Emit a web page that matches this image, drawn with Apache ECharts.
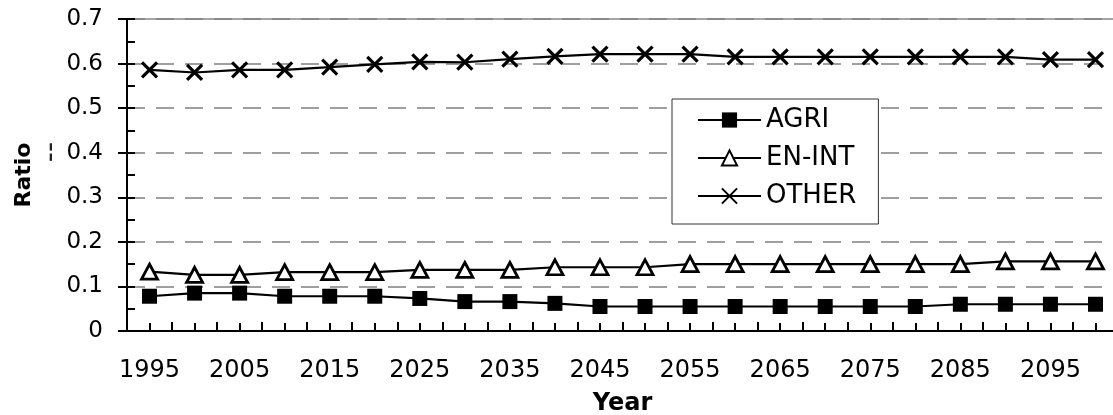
<!DOCTYPE html>
<html>
<head>
<meta charset="utf-8">
<script src="https://cdn.jsdelivr.net/npm/echarts@6/dist/echarts.min.js"></script>
<style>
html,body{margin:0;padding:0;background:#fff;}
#chart{width:1113px;height:415px;}
</style>
</head>
<body>
<div id="chart"></div>
<script>
var years = ['1995','2000','2005','2010','2015','2020','2025','2030','2035','2040','2045','2050','2055','2060','2065','2070','2075','2080','2085','2090','2095','2100'];
var agri  = [0.078,0.085,0.085,0.078,0.078,0.078,0.073,0.066,0.066,0.062,0.055,0.055,0.055,0.055,0.055,0.055,0.055,0.055,0.060,0.060,0.060,0.060];
var enint = [0.133,0.126,0.126,0.132,0.132,0.132,0.137,0.137,0.137,0.143,0.143,0.143,0.150,0.150,0.150,0.150,0.150,0.150,0.150,0.156,0.156,0.156];
var other = [0.586,0.580,0.586,0.586,0.592,0.598,0.604,0.603,0.610,0.616,0.621,0.621,0.621,0.615,0.615,0.615,0.615,0.615,0.615,0.615,0.609,0.609];
var seriesNames = ['AGRI','EN-INT','OTHER'];
var yMin = 0, yMax = 0.7, yStep = 0.1;

var FONT = 'DejaVu Sans';
var chart = echarts.init(document.getElementById('chart'), null, {renderer:'canvas'});
var gridRect = {left:127, top:19, width:991, height:312, containLabel:false, outerBoundsMode:'none'};
var crossPath = 'path://M0,0L10,10M10,0L0,10';
var hiddenLine = {show:true, lineStyle:{color:'rgba(0,0,0,0)', width:0}};

var option = {
  animation:false,
  backgroundColor:'#fff',
  grid:[
    Object.assign({show:true, borderColor:'#888', borderWidth:1.5, backgroundColor:'transparent'}, gridRect),
    Object.assign({}, gridRect),
    Object.assign({}, gridRect)
  ],
  legend:{
    orient:'vertical',
    left:672, top:99,
    data:seriesNames,
    backgroundColor:'#fff',
    borderColor:'#333', borderWidth:1,
    padding:[8,22,15,25],
    itemWidth:63, itemHeight:19, itemGap:12,
    textStyle:{fontFamily:FONT, fontSize:26, color:'#000'}
  },
  xAxis:[
    {type:'category', gridIndex:0, data:years, boundaryGap:true,
     axisLine:{lineStyle:{color:'#000', width:2}},
     axisTick:{alignWithLabel:true, interval:0, length:6, lineStyle:{color:'#000', width:2}},
     axisLabel:{interval:1, margin:28, fontFamily:FONT, fontSize:24, color:'#000'},
     name:'Year', nameLocation:'middle', nameGap:61,
     nameTextStyle:{fontFamily:FONT, fontSize:24, fontWeight:'bold', color:'#000'}
    },
    {type:'category', gridIndex:1, data:years, boundaryGap:true,
     axisLine:hiddenLine,
     axisTick:{show:true, inside:true, alignWithLabel:true, interval:0, length:8, lineStyle:{color:'#000', width:2}},
     axisLabel:{show:false}},
    {type:'category', gridIndex:2, data:years, boundaryGap:true,
     axisLine:hiddenLine,
     axisTick:{show:true, inside:true, alignWithLabel:false, interval:0, length:9, lineStyle:{color:'#000', width:2}},
     axisLabel:{show:false}}
  ],
  yAxis:[
    {type:'value', gridIndex:0, min:yMin, max:yMax, interval:yStep,
     axisLine:{show:true, lineStyle:{color:'#000', width:2}},
     axisTick:{show:true, length:9, lineStyle:{color:'#000', width:2}},
     axisLabel:{margin:24, fontFamily:FONT, fontSize:23, color:'#000',
       formatter:function(v){ return v===0 ? '0' : v.toFixed(1); }},
     splitLine:{show:true, lineStyle:{color:'#808080', width:1.5, type:[18,11]}},
     name:'Ratio', nameLocation:'middle', nameGap:92, nameRotate:90,
     nameTextStyle:{fontFamily:FONT, fontSize:22, fontWeight:'bold', color:'#000'}
    },
    {type:'value', gridIndex:1, min:yMin, max:yMax, interval:yStep/2,
     axisLine:hiddenLine,
     axisTick:{show:true, inside:true, length:8, lineStyle:{color:'#000', width:2}},
     axisLabel:{show:false}, splitLine:{show:false}},
    {type:'value', gridIndex:2, min:yMin, max:yMax, axisLine:hiddenLine,
     axisTick:{show:false}, axisLabel:{show:false}, splitLine:{show:false}}
  ],
  graphic:[
    {type:'text', left:38, top:142, rotation:Math.PI/2,
     style:{text:'--', font:'28px ' + FONT, fill:'#222'}}
  ],
  series:[
    {name:'AGRI', type:'line', xAxisIndex:0, yAxisIndex:0, data:agri,
     symbol:'rect', symbolSize:15, showAllSymbol:true,
     lineStyle:{color:'#000', width:2.2},
     itemStyle:{color:'#000', borderColor:'#000', borderWidth:0}},
    {name:'EN-INT', type:'line', xAxisIndex:0, yAxisIndex:0, data:enint,
     symbol:'triangle', symbolSize:[16,15], showAllSymbol:true,
     lineStyle:{color:'#000', width:2.2},
     itemStyle:{color:'#fff', borderColor:'#000', borderWidth:2.8}},
    {name:'OTHER', type:'line', xAxisIndex:0, yAxisIndex:0, data:other,
     symbol:crossPath, symbolSize:15, showAllSymbol:true,
     lineStyle:{color:'#000', width:2.2},
     itemStyle:{color:'#000', borderColor:'#000', borderWidth:3.2}}
  ]
};
chart.setOption(option);
</script>
</body>
</html>
